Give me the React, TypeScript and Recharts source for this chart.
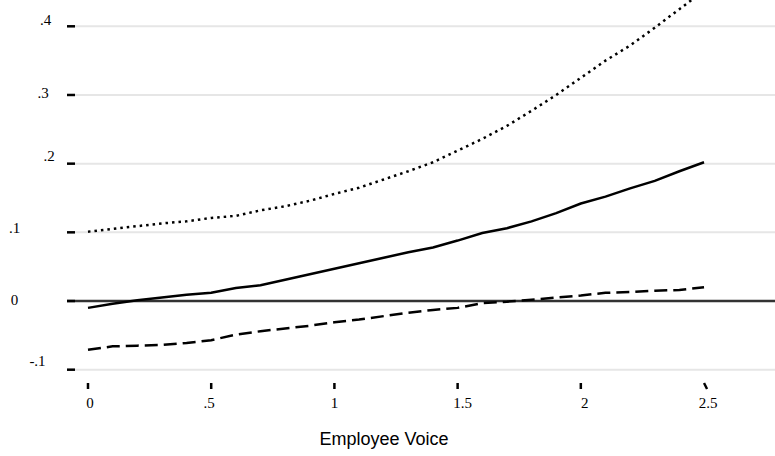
import React from 'react';
import { LineChart, Line, XAxis, YAxis, ReferenceLine } from 'recharts';

// Employee voice values at which the marginal effect was evaluated
const voice = [0, 0.1, 0.2, 0.3, 0.4, 0.5, 0.6, 0.7, 0.8, 0.9, 1.0, 1.1, 1.2, 1.3, 1.4, 1.5, 1.6, 1.7, 1.8, 1.9, 2.0, 2.1, 2.2, 2.3, 2.4, 2.5];

// Point estimate
const effect = [-0.010, -0.004, 0.001, 0.005, 0.009, 0.012, 0.019, 0.023, 0.031, 0.039, 0.047, 0.055, 0.063, 0.071, 0.078, 0.088, 0.099, 0.106, 0.116, 0.128, 0.142, 0.152, 0.164, 0.175, 0.189, 0.202];

// Upper confidence bound (dotted)
const upperBound = [0.101, 0.105, 0.109, 0.113, 0.116, 0.121, 0.124, 0.132, 0.138, 0.146, 0.156, 0.165, 0.177, 0.189, 0.202, 0.219, 0.236, 0.255, 0.277, 0.300, 0.325, 0.350, 0.372, 0.398, 0.425, 0.452];

// Lower confidence bound (dashed)
const lowerBound = [-0.071, -0.066, -0.065, -0.064, -0.061, -0.057, -0.049, -0.044, -0.040, -0.036, -0.031, -0.027, -0.022, -0.017, -0.013, -0.010, -0.003, -0.001, 0.002, 0.005, 0.008, 0.012, 0.013, 0.015, 0.016, 0.020];

const yTicks = [-0.1, 0, 0.1, 0.2, 0.3, 0.4];
const yTickLabels = ['-.1', '0', '.1', '.2', '.3', '.4'];
const xTicks = [0, 0.5, 1, 1.5, 2, 2.5];
const xTickLabels = ['0', '.5', '1', '1.5', '2', '2.5'];

const rows = voice.map((v, i) => ({
  voice: v,
  effect: effect[i],
  upper: upperBound[i],
  lower: lowerBound[i],
}));

const SERIF = '"Liberation Serif", "Times New Roman", serif';
const SANS = '"Liberation Sans", Arial, sans-serif';

// Label placement around each y tick: absolute centre x and vertical shift
const yLabelPlacement: Record<string, { cx: number; dy: number }> = {
  '.4': { cx: 45.5, dy: -6 },
  '.3': { cx: 43, dy: -2 },
  '.2': { cx: 49, dy: -8 },
  '.1': { cx: 14.5, dy: -4 },
  '0': { cx: 14.5, dy: -1 },
  '-.1': { cx: 37.5, dy: -9 },
};

// Horizontal nudges for x tick labels and lean of the tick marks
const xLabelShift: Record<string, number> = { '0': 2, '.5': -2, '1': 0, '1.5': 5, '2': 4, '2.5': 4 };
const xMarkLean: Record<string, number> = { '2.5': 3 };

const labelFor = (value: number, ticks: number[], labels: string[]) => {
  const idx = ticks.findIndex((t) => Math.abs(t - value) < 1e-9);
  return idx >= 0 ? labels[idx] : String(value);
};

const YTick = (props: any) => {
  const { x, y, payload } = props;
  const text = labelFor(payload.value, yTicks, yTickLabels);
  const place = yLabelPlacement[text] ?? { cx: x - 20, dy: 0 };
  return (
    <g>
      <line x1={x} x2={x + 8} y1={y} y2={y} stroke="#000" strokeWidth={2.5} />
      <text
        x={place.cx}
        y={y + place.dy + 5}
        textAnchor="middle"
        fontFamily={SERIF}
        fontSize={15}
        fill="#000"
      >
        {text}
      </text>
    </g>
  );
};

const XTick = (props: any) => {
  const { x, y, payload } = props;
  const text = labelFor(payload.value, xTicks, xTickLabels);
  const lean = xMarkLean[text] ?? 0;
  const shift = xLabelShift[text] ?? 0;
  return (
    <g>
      <line x1={x} x2={x + lean} y1={y + 5} y2={y + 11} stroke="#000" strokeWidth={2.5} />
      <text
        x={x + shift}
        y={y + 30}
        textAnchor="middle"
        fontFamily={SERIF}
        fontSize={15}
        fill="#000"
      >
        {text}
      </text>
    </g>
  );
};

export default function App() {
  return (
    <div style={{ position: 'absolute', left: 0, top: 0, width: 775, height: 456, background: '#fff' }}>
      <LineChart width={775} height={456} data={rows} margin={{ top: 0, right: 0, bottom: 0, left: 0 }}>
        <XAxis
          dataKey="voice"
          type="number"
          domain={[-0.0852, 2.788]}
          allowDataOverflow
          ticks={xTicks}
          interval={0}
          height={78}
          axisLine={false}
          tickLine={false}
          tickSize={0}
          tickMargin={0}
          tick={<XTick />}
          label={{
            value: 'Employee Voice',
            position: 'insideBottom',
            offset: 11,
            dx: -37,
            fontFamily: SANS,
            fontSize: 18,
            fill: '#000',
          }}
        />
        <YAxis
          type="number"
          domain={[-0.1121, 0.4383]}
          allowDataOverflow
          ticks={yTicks}
          interval={0}
          width={67}
          axisLine={false}
          tickLine={false}
          tickSize={0}
          tickMargin={0}
          tick={<YTick />}
        />
        {/* light horizontal rules at each labelled value, dark rule at zero */}
        {yTicks.map((t) => (
          <ReferenceLine
            key={`rule-${t}`}
            y={t}
            stroke={t === 0 ? '#333' : '#e6e6e6'}
            strokeWidth={t === 0 ? 2.5 : 2}
          />
        ))}
        <Line
          dataKey="upper"
          type="linear"
          stroke="#000"
          strokeWidth={2.5}
          strokeDasharray="2.5 4"
          dot={false}
          isAnimationActive={false}
        />
        <Line
          dataKey="lower"
          type="linear"
          stroke="#000"
          strokeWidth={2.5}
          strokeDasharray="13 6"
          dot={false}
          isAnimationActive={false}
        />
        <Line
          dataKey="effect"
          type="linear"
          stroke="#000"
          strokeWidth={2.5}
          dot={false}
          isAnimationActive={false}
        />
      </LineChart>
    </div>
  );
}
